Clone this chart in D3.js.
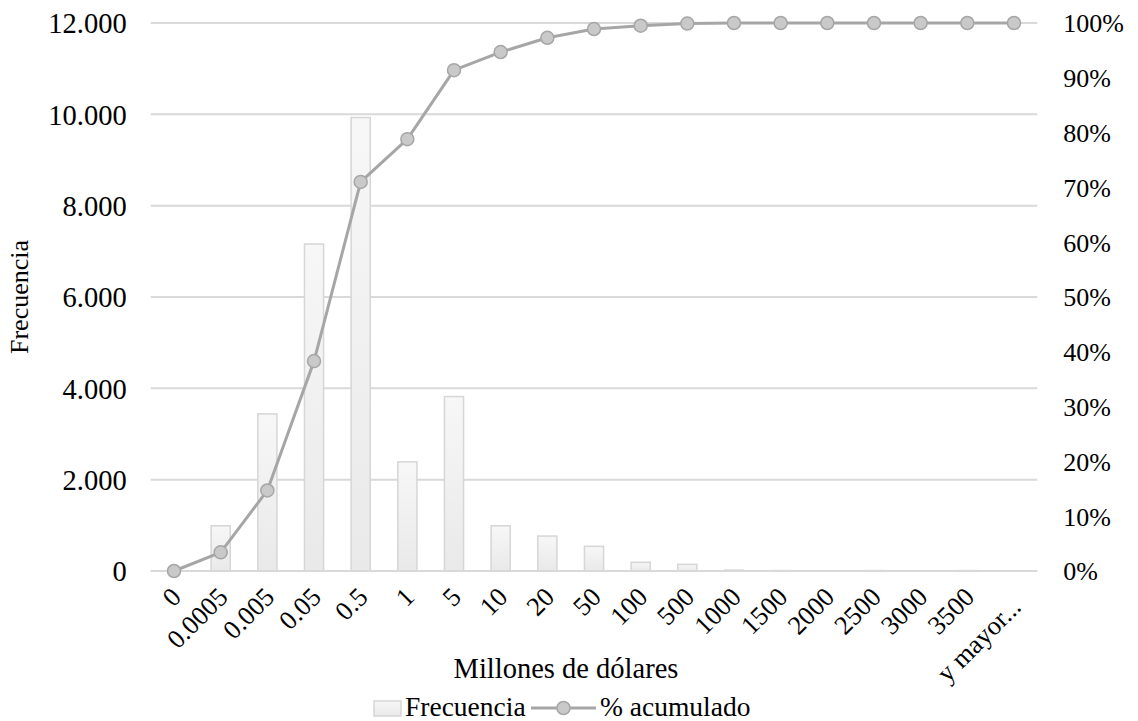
<!DOCTYPE html>
<html>
<head>
<meta charset="utf-8">
<script src="https://cdn.jsdelivr.net/npm/d3@7"></script>
<style>
  html, body { margin: 0; padding: 0; background: #fff; }
  svg { display: block; }
  text { font-family: "Liberation Serif", "Times New Roman", serif; fill: #000; }
</style>
</head>
<body>
<svg id="chart" width="1138" height="721"></svg>
<script>
// Class intervals (millions of dollars)
const categories = ["0", "0.0005", "0.005", "0.05", "0.5", "1", "5", "10", "20", "50",
  "100", "500", "1000", "1500", "2000", "2500", "3000", "3500", "y mayor..."];
// Frequency per class
const frequency = [0, 990, 3440, 7160, 9930, 2390, 3820, 990, 765, 540,
  190, 145, 20, 10, 0, 10, 0, 10, 0];
// Cumulative percentage per class
const cumulativePct = [0, 3.4, 14.7, 38.3, 71.0, 78.8, 91.4, 94.7, 97.3, 98.9,
  99.5, 99.9, 100, 100, 100, 100, 100, 100, 100];
// Axis ticks
const leftTicks = [0, 2000, 4000, 6000, 8000, 10000, 12000];
const rightTicks = [0, 10, 20, 30, 40, 50, 60, 70, 80, 90, 100];

const svg = d3.select("#chart");
const plot = { left: 150.7, right: 1037.3, top: 23, bottom: 571 };

const x = d3.scaleBand().domain(categories).range([plot.left, plot.right]).padding(0);
const yL = d3.scaleLinear().domain([0, 12000]).range([plot.bottom, plot.top]);
const yR = d3.scaleLinear().domain([0, 100]).range([plot.bottom, plot.top]);

const fmtThousands = d3.formatLocale({ decimal: ",", thousands: ".", grouping: [3], currency: ["", ""] }).format(",d");

// Bar fill gradient
const defs = svg.append("defs");
const grad = defs.append("linearGradient").attr("id", "barGrad")
  .attr("x1", 0).attr("y1", 0).attr("x2", 0).attr("y2", 1);
grad.append("stop").attr("offset", "0%").attr("stop-color", "#f7f7f7");
grad.append("stop").attr("offset", "100%").attr("stop-color", "#e9e9e9");

// Gridlines
svg.append("g").selectAll("line").data(leftTicks).join("line")
  .attr("x1", plot.left).attr("x2", plot.right)
  .attr("y1", d => yL(d)).attr("y2", d => yL(d))
  .attr("stroke", "#d9d9d9").attr("stroke-width", 2);

// Left axis
const axL = svg.append("g").attr("transform", `translate(${plot.left - 24},0)`)
  .call(d3.axisLeft(yL).tickValues(leftTicks).tickFormat(fmtThousands).tickSize(0).tickPadding(0));
axL.select(".domain").remove();
axL.selectAll("text").style("font-size", "28.5px").attr("dy", "0.34em");

// Right axis
const axR = svg.append("g").attr("transform", `translate(${plot.right + 26},0)`)
  .call(d3.axisRight(yR).tickValues(rightTicks).tickFormat(d => d + "%").tickSize(0).tickPadding(0));
axR.select(".domain").remove();
axR.selectAll("text").style("font-size", "26px").attr("dy", "0.34em");

// Bars
const barW = x.bandwidth() * 0.41;
svg.append("g").selectAll("rect").data(categories).join("rect")
  .attr("x", (d) => x(d) + (x.bandwidth() - barW) / 2)
  .attr("width", barW)
  .attr("y", (d, i) => yL(frequency[i]))
  .attr("height", (d, i) => plot.bottom - yL(frequency[i]))
  .attr("fill", "url(#barGrad)")
  .attr("stroke", "#d6d6d6").attr("stroke-width", 1.5)
  .attr("display", (d, i) => frequency[i] > 0 ? null : "none");

// Baseline
svg.append("line").attr("x1", plot.left).attr("x2", plot.right)
  .attr("y1", plot.bottom).attr("y2", plot.bottom)
  .attr("stroke", "#d9d9d9").attr("stroke-width", 2);

// Cumulative line
const cx = d => x(d) + x.bandwidth() / 2;
const line = d3.line().x((d, i) => cx(categories[i])).y(d => yR(d));
svg.append("path").datum(cumulativePct)
  .attr("d", line).attr("fill", "none")
  .attr("stroke", "#a6a6a6").attr("stroke-width", 3).attr("stroke-linejoin", "round");
svg.append("g").selectAll("circle").data(cumulativePct).join("circle")
  .attr("cx", (d, i) => cx(categories[i])).attr("cy", d => yR(d))
  .attr("r", 6.5).attr("fill", "#c9c9c9").attr("stroke", "#a6a6a6").attr("stroke-width", 1.5);

// Category labels (rotated)
svg.append("g").selectAll("text").data(categories).join("text")
  .attr("transform", (d, i) => `translate(${cx(d) + 2},${plot.bottom + 21 + (i === categories.length - 1 ? 10 : 0)}) rotate(-45)`)
  .attr("text-anchor", "end").attr("dy", "0.35em")
  .style("font-size", "26.5px")
  .text(d => d);

// Axis titles
svg.append("text").attr("x", 566).attr("y", 678).attr("text-anchor", "middle")
  .style("font-size", "28.5px").text("Millones de dólares");
svg.append("text").attr("transform", `translate(28,${(plot.top + plot.bottom) / 2}) rotate(-90)`)
  .attr("text-anchor", "middle").style("font-size", "26px").text("Frecuencia");

// Legend
const lg = svg.append("g");
lg.append("rect").attr("x", 374).attr("y", 701).attr("width", 27).attr("height", 15)
  .attr("fill", "url(#barGrad)").attr("stroke", "#d6d6d6").attr("stroke-width", 1.5);
lg.append("text").attr("x", 405).attr("y", 716).style("font-size", "27.5px").text("Frecuencia");
lg.append("line").attr("x1", 531).attr("x2", 596).attr("y1", 708).attr("y2", 708)
  .attr("stroke", "#a6a6a6").attr("stroke-width", 3);
lg.append("circle").attr("cx", 563.5).attr("cy", 708).attr("r", 6.5)
  .attr("fill", "#c9c9c9").attr("stroke", "#a6a6a6").attr("stroke-width", 1.5);
lg.append("text").attr("x", 600).attr("y", 716).style("font-size", "27.5px").text("% acumulado");
</script>
</body>
</html>
